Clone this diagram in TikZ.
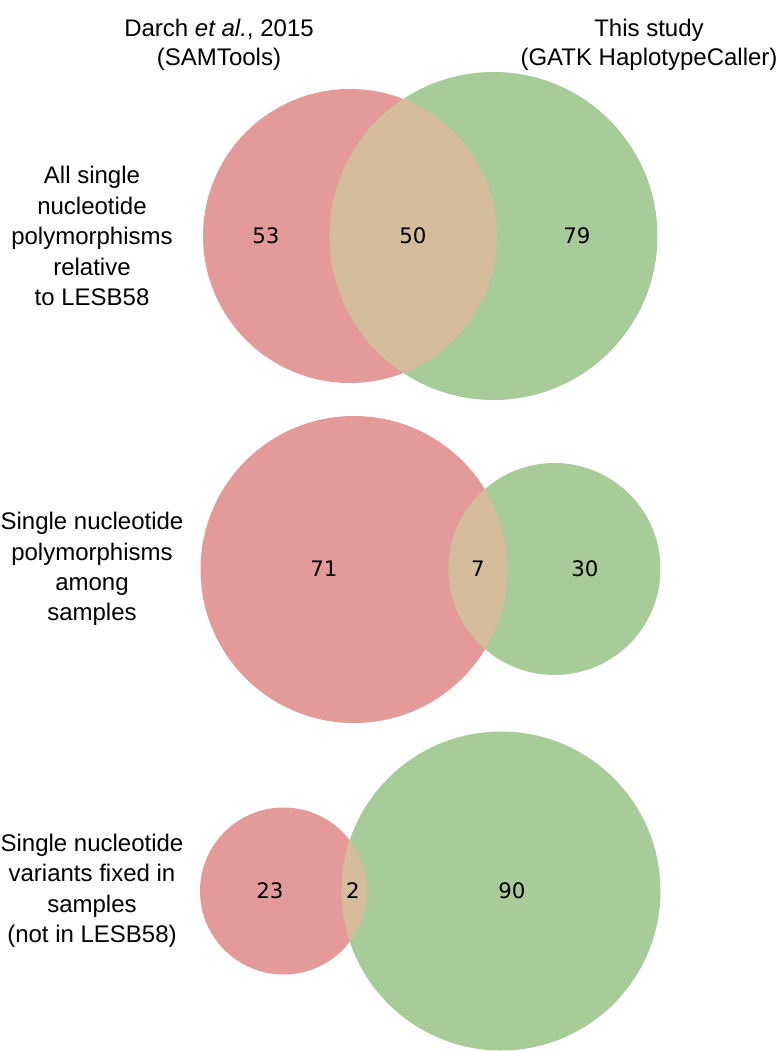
\documentclass[tikz,border=0pt]{standalone}
\usepackage{fontspec}
\setmainfont{Liberation Sans}
\newfontfamily\countfont{DejaVu Sans}
\usepackage{xcolor}
\usepackage{tikz}
\definecolor{VennRed}{HTML}{E59A9A}
\definecolor{VennGreen}{HTML}{A8CB9A}
\definecolor{VennMix}{HTML}{D5BC9A}

\begin{document}
\begin{tikzpicture}[
  x=0.75pt,
  y=-0.75pt,
  header/.style={
    align=center,
    inner sep=0pt,
    font=\fontsize{18}{21.8}\selectfont
  },
  rowlabel/.style={
    align=center,
    inner sep=0pt,
    font=\fontsize{18}{22.8}\selectfont
  },
  count/.style={
    inner sep=0pt,
    font=\countfont\fontsize{16}{19}\selectfont
  },
  seta/.style={fill=VennRed},
  setb/.style={fill=VennGreen},
  both/.style={fill=VennMix},
]

\useasboundingbox (0,0) rectangle (780,1051);

\node[header] (darch) at (219,45) {Darch \textit{et al.}, 2015\\(SAMTools)};
\node[header] (study) at (649,45) {This study\\(GATK HaplotypeCaller)};

\coordinate (all-a) at (350,236);
\coordinate (all-b) at (493.5,236);
\coordinate (among-a) at (354,569.5);
\coordinate (among-b) at (554.5,569);
\coordinate (fixed-a) at (283.5,891);
\coordinate (fixed-b) at (501,891);

\fill[seta] (all-a) circle[radius=147];
\fill[setb] (all-b) circle[radius=164];
\begin{scope}
  \clip (all-a) circle[radius=147];
  \fill[both] (all-b) circle[radius=164];
\end{scope}

\fill[seta] (among-a) circle[radius=153.5];
\fill[setb] (among-b) circle[radius=106];
\begin{scope}
  \clip (among-a) circle[radius=153.5];
  \fill[both] (among-b) circle[radius=106];
\end{scope}

\fill[seta] (fixed-a) circle[radius=83.5];
\fill[setb] (fixed-b) circle[radius=159.5];
\begin{scope}
  \clip (fixed-a) circle[radius=83.5];
  \fill[both] (fixed-b) circle[radius=159.5];
\end{scope}

\node[rowlabel] (all) at (92,236.2) {All single\\nucleotide\\polymorphisms\\relative\\to LESB58};
\node[count] (all-only-a) at (266,236) {53};
\node[count] (all-ab) at (413,236) {50};
\node[count] (all-only-b) at (577,236) {79};

\node[rowlabel] (among) at (92,569) {Single nucleotide\\polymorphisms\\among\\samples};
\node[count] (among-only-a) at (324,569) {71};
\node[count] (among-ab) at (478,569) {7};
\node[count] (among-only-b) at (585,569) {30};

\node[rowlabel] (fixed) at (92,890.7) {Single nucleotide\\variants fixed in\\samples\\(not in LESB58)};
\node[count] (fixed-only-a) at (270,891) {23};
\node[count] (fixed-ab) at (353,891) {2};
\node[count] (fixed-only-b) at (512,891) {90};
\end{tikzpicture}
\end{document}
